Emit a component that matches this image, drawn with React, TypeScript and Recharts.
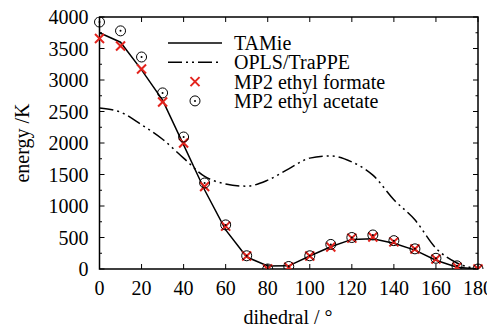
import { ComposedChart, Line, Scatter, XAxis, YAxis, ReferenceArea } from 'recharts';

const angles = [0, 10, 20, 30, 40, 50, 60, 70, 80, 90, 100, 110, 120, 130, 140, 150, 160, 170, 180];
const tamie = [3750, 3600, 3160, 2680, 1970, 1254, 620, 190, 48, 50, 206, 354, 470, 480, 410, 300, 140, 27, 0];
const opls = [2555, 2490, 2290, 2060, 1760, 1470, 1350, 1315, 1410, 1590, 1760, 1795, 1700, 1490, 1100, 780, 330, 95, 0];
const ethylFormate = [3660, 3540, 3175, 2650, 2000, 1310, 680, 206, 0, 30, 206, 350, 490, 508, 430, 317, 160, 30, 0];
const ethylAcetate = [3920, 3780, 3365, 2795, 2095, 1365, 700, 210, 0, 40, 210, 390, 500, 540, 450, 320, 170, 50, 0];

const xTicks = [0, 20, 40, 60, 80, 100, 120, 140, 160, 180];
const yTicks = [0, 250, 500, 750, 1000, 1250, 1500, 1750, 2000, 2250, 2500, 2750, 3000, 3250, 3500, 3750, 4000];

const rows = angles.map((a, i) => ({
  angle: a,
  tamie: tamie[i],
  opls: opls[i],
  formate: ethylFormate[i],
  acetate: ethylAcetate[i],
}));

const W = 487;
const H = 319;
const PLOT_W = 378.5;
const PLOT_H = 252;
const txt = { fontFamily: '"Liberation Serif", "Times New Roman", serif', fontSize: 20 };
const RED = '#e3231d';
const DASH = '14 4 2 4 2 4';

const YTick = ({ x, y, payload }: any) => {
  const v = payload.value;
  const major = v % 500 === 0;
  const len = major ? 5 : 2.5;
  return (
    <g>
      <line x1={x} x2={x + len} y1={y} y2={y} stroke="#000" />
      <line x1={x + PLOT_W} x2={x + PLOT_W - len} y1={y} y2={y} stroke="#000" />
      {major && (
        <text x={x - 11} y={y} textAnchor="end" dominantBaseline="central" style={txt} fill="#000">
          {v}
        </text>
      )}
    </g>
  );
};

const XTick = ({ x, y, payload }: any) => (
  <g>
    <line x1={x} x2={x} y1={y} y2={y - 5} stroke="#000" />
    <line x1={x} x2={x} y1={y - PLOT_H} y2={y - PLOT_H + 5} stroke="#000" />
    <text x={x} y={y + 26} textAnchor="middle" style={txt} fill="#000">
      {payload.value}
    </text>
  </g>
);

const Cross = ({ cx, cy }: any) => (
  <g stroke={RED} strokeWidth={2}>
    <line x1={cx - 4.5} y1={cy - 4.5} x2={cx + 4.5} y2={cy + 4.5} />
    <line x1={cx - 4.5} y1={cy + 4.5} x2={cx + 4.5} y2={cy - 4.5} />
  </g>
);

const Dot = ({ cx, cy }: any) => (
  <g>
    <circle cx={cx} cy={cy} r={5} fill="none" stroke="#000" strokeWidth={1} />
    <circle cx={cx} cy={cy} r={1} fill="#000" />
  </g>
);

const legendItems = [
  { name: 'TAMie', kind: 'solid' },
  { name: 'OPLS/TraPPE', kind: 'dash' },
  { name: 'MP2 ethyl formate', kind: 'cross' },
  { name: 'MP2 ethyl acetate', kind: 'circle' },
];

// legend drawn straight into the svg so it takes no layout space
const LEG_X = 160;
const LEG_Y = 35;
const LEG_STEP = 19.3;

export default function App() {
  return (
    <div style={{ width: W, height: H }}>
      <style>{'html, body { overflow: hidden; }'}</style>
      <ComposedChart width={W} height={H} data={rows} margin={{ top: 9, right: 17, left: 0, bottom: 0 }}>
        <XAxis
          dataKey="angle"
          type="number"
          domain={[0, 180]}
          ticks={xTicks}
          tick={<XTick />}
          tickSize={0}
          tickMargin={0}
          axisLine={false}
          tickLine={false}
          height={58}
          interval={0}
        />
        <YAxis
          type="number"
          domain={[0, 4000]}
          ticks={yTicks}
          tick={<YTick />}
          tickSize={0}
          tickMargin={0}
          axisLine={false}
          tickLine={false}
          width={91.5}
          interval={0}
          allowDataOverflow
        />
        <ReferenceArea x1={0} x2={180} y1={0} y2={4000} fill="none" stroke="#000" strokeWidth={1.5} />
        <Line dataKey="tamie" type="linear" stroke="#000" strokeWidth={1.5} dot={false} isAnimationActive={false} />
        <Line dataKey="opls" type="monotone" stroke="#000" strokeWidth={1.5} strokeDasharray={DASH} dot={false} isAnimationActive={false} />
        <Scatter dataKey="formate" shape={<Cross />} isAnimationActive={false} />
        <Scatter dataKey="acetate" shape={<Dot />} isAnimationActive={false} />
        <g>
          {legendItems.map((it, i) => {
            const y = LEG_Y + i * LEG_STEP;
            return (
              <g key={it.name}>
                {it.kind === 'solid' && <line x1={LEG_X} x2={LEG_X + 54} y1={y} y2={y} stroke="#000" strokeWidth={1.5} />}
                {it.kind === 'dash' && (
                  <line x1={LEG_X} x2={LEG_X + 54} y1={y} y2={y} stroke="#000" strokeWidth={1.5} strokeDasharray={DASH} />
                )}
                {it.kind === 'cross' && <Cross cx={LEG_X + 27} cy={y} />}
                {it.kind === 'circle' && <Dot cx={LEG_X + 27} cy={y} />}
                <text x={LEG_X + 66} y={y} dominantBaseline="central" style={txt} fill="#000">
                  {it.name}
                </text>
              </g>
            );
          })}
        </g>
        <text x={14} y={135} transform="rotate(-90 14 135)" textAnchor="middle" dominantBaseline="central" style={txt} fill="#000">
          energy /K
        </text>
        <text x={280} y={316} textAnchor="middle" style={txt} fill="#000">
          dihedral / °
        </text>
      </ComposedChart>
    </div>
  );
}
